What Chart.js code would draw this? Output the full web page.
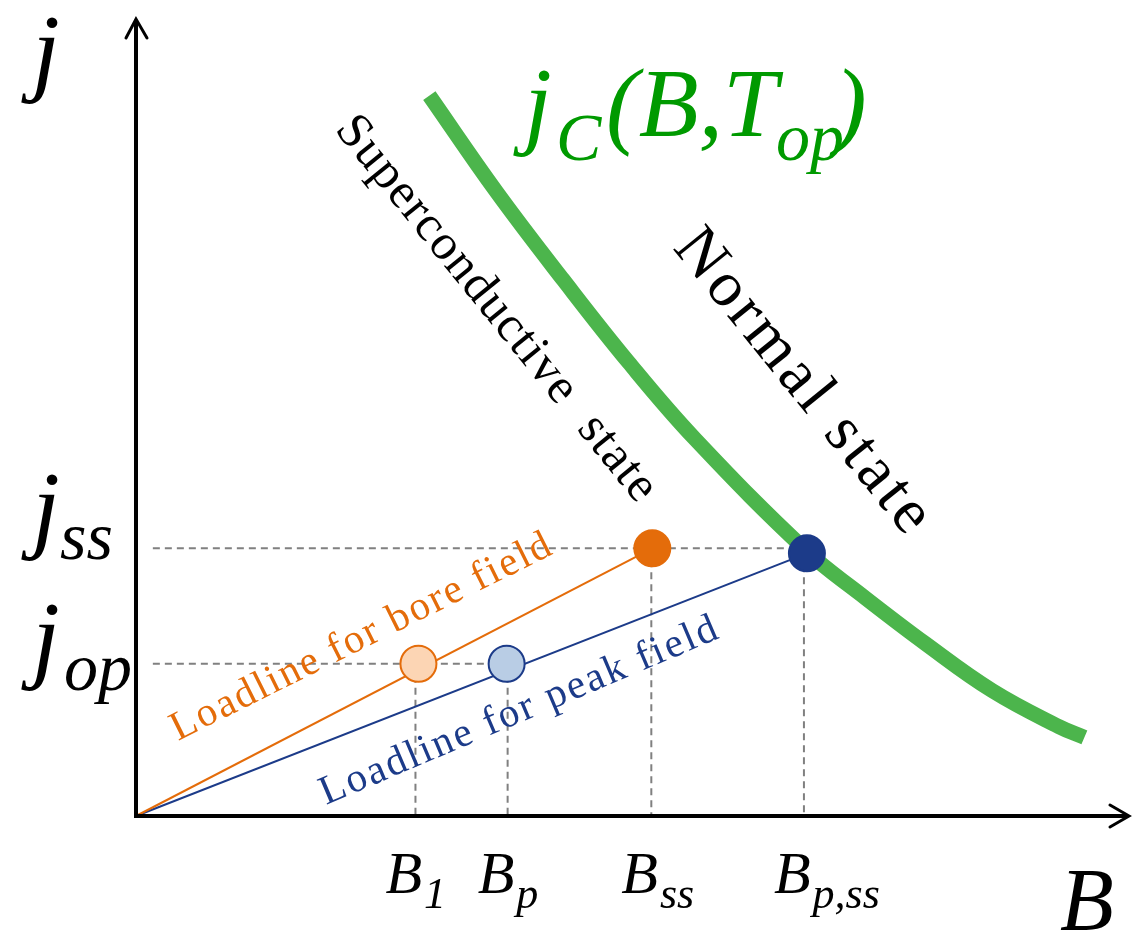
<!DOCTYPE html>
<html>
<head>
<meta charset="utf-8">
<script src="https://cdn.jsdelivr.net/npm/chart.js@4/dist/chart.umd.min.js"></script>
<style>
  html, body { margin: 0; padding: 0; background: #fff; }
  #wrap { width: 1147px; height: 933px; }
</style>
</head>
<body>
<div id="wrap"><canvas id="jbChart"></canvas></div>
<script>
// critical current curve j_C(B, T_op)
const curveB = [2.96, 3.64, 4.31, 4.97, 5.64, 6.77, 7.31, 7.97, 8.64, 9.31, 9.57];
const curveJ = [7.24, 6.27, 5.39, 4.56, 3.79, 2.66, 2.23, 1.73, 1.26, 0.90, 0.79];

// load lines (from origin to the short-sample point)
const boreLineB = [0, 5.21];
const boreLineJ = [0, 2.69];
const peakLineB = [0, 6.77];
const peakLineJ = [0, 2.64];

// operating points and short-sample points
const opBoreB = 2.85, opBoreJ = 1.53;
const opPeakB = 3.74, opPeakJ = 1.53;
const ssBoreB = 5.21, ssBoreJ = 2.69;
const ssPeakB = 6.77, ssPeakJ = 2.64;

// tick labels
const tickB = [2.82, 3.75, 5.20, 6.74];
const tickBSub = ["1", "p", "ss", "p,ss"];
const tickJ = [2.69, 1.53];
const tickJSub = ["ss", "op"];

const GREEN = "#4cb54c";
const ORANGE = "#e46c0a";
const BLUE = "#1c3b89";
const GREY = "#808080";
const SERIF = '"Liberation Serif", "DejaVu Serif", serif';

function pts(xs, ys) {
  return xs.map((x, i) => ({ x: x, y: ys[i] }));
}

function guide(data) {
  return {
    data: data, showLine: true, borderColor: GREY, borderWidth: 2,
    borderDash: [7, 5], pointRadius: 0, order: 5
  };
}

function dot(x, y, fill, stroke) {
  return {
    data: [{ x: x, y: y }], showLine: false, pointRadius: 18, pointHoverRadius: 18,
    pointBackgroundColor: fill, pointBorderColor: stroke, pointBorderWidth: 2, order: 1
  };
}

function text(ctx, str, x, y, size, color, italic) {
  ctx.font = (italic ? "italic " : "") + size + "px " + SERIF;
  ctx.fillStyle = color;
  ctx.fillText(str, x, y);
  return ctx.measureText(str).width;
}

// rotated label, stretched with letter spacing to the reference length
function rotated(ctx, str, x, y, deg, size, color, width) {
  ctx.save();
  ctx.font = size + "px " + SERIF;
  ctx.fillStyle = color;
  ctx.translate(x, y);
  ctx.rotate(deg * Math.PI / 180);
  if ("letterSpacing" in ctx) {
    const w = ctx.measureText(str).width;
    ctx.letterSpacing = ((width - w) / (str.length - 1)).toFixed(2) + "px";
  }
  ctx.fillText(str, 0, 0);
  ctx.letterSpacing = "0px";
  ctx.restore();
}

const sketch = {
  id: "sketch",
  afterDatasetsDraw(chart) {
    const ctx = chart.ctx;
    const xs = chart.scales.x, ys = chart.scales.y;
    const x0 = xs.getPixelForValue(0), y0 = ys.getPixelForValue(0);
    const xEnd = xs.getPixelForValue(10.02), yEnd = ys.getPixelForValue(8.01);

    ctx.save();
    ctx.textBaseline = "alphabetic";
    ctx.textAlign = "left";

    // axes with open arrow heads
    ctx.strokeStyle = "#000";
    ctx.lineWidth = 4;
    ctx.lineCap = "butt";
    ctx.beginPath();
    ctx.moveTo(x0, y0 + 2); ctx.lineTo(x0, yEnd + 2);
    ctx.moveTo(x0 - 2, y0); ctx.lineTo(xEnd - 2, y0);
    ctx.stroke();
    ctx.lineWidth = 3;
    ctx.lineCap = "round";
    ctx.lineJoin = "miter";
    ctx.beginPath();
    ctx.moveTo(x0 - 10, yEnd + 19); ctx.lineTo(x0, yEnd); ctx.lineTo(x0 + 11, yEnd + 19);
    ctx.moveTo(xEnd - 19, y0 - 11); ctx.lineTo(xEnd, y0); ctx.lineTo(xEnd - 19, y0 + 11);
    ctx.stroke();

    // axis titles
    text(ctx, "j", x0 - 104, 83, 100, "#000", true);
    text(ctx, "B", 1060, 929, 88, "#000", true);

    // B tick labels
    tickB.forEach((v, i) => {
      const px = xs.getPixelForValue(v) - 30;
      const w = text(ctx, "B", px, y0 + 77, 60, "#000", true);
      text(ctx, tickBSub[i], px + w + 2, y0 + 92, 44, "#000", true);
    });

    // j tick labels
    const jDy = [-8, 6], subDy = [11, 26], subX = [60, 64];
    tickJ.forEach((v, i) => {
      const py = ys.getPixelForValue(v);
      text(ctx, "j", 32, py + jDy[i], 100, "#000", true);
      text(ctx, tickJSub[i], subX[i], py + subDy[i], 68, "#000", true);
    });

    // curve label j_C(B, T_op)
    const G = "#009a00";
    text(ctx, "j", 524, 136, 100, G, true);
    text(ctx, "C", 556, 160, 68, G, true);
    text(ctx, "(B,T", 606, 136, 98, G, true);
    text(ctx, "op", 776, 160, 68, G, true);
    text(ctx, ")", 834, 136, 98, G, true);

    // region labels
    rotated(ctx, "Superconductive  state", 334, 130, 51, 50, "#000", 482);
    rotated(ctx, "Normal state", 672, 248, 51, 64, "#000", 372);

    // load line labels
    rotated(ctx, "Loadline for bore field", 178, 741, -26.5, 41, ORANGE, 420);
    rotated(ctx, "Loadline for peak field", 326, 805, -23, 41, BLUE, 428);

    ctx.restore();
  }
};

new Chart(document.getElementById("jbChart"), {
  type: "scatter",
  data: {
    datasets: [
      {
        label: "j_C(B, T_op)", data: pts(curveB, curveJ), showLine: true,
        borderColor: GREEN, borderWidth: 15, borderCapStyle: "butt",
        tension: 0.4, pointRadius: 0, order: 6
      },
      guide([{ x: 0.17, y: tickJ[0] }, { x: ssPeakB, y: tickJ[0] }]),
      guide([{ x: 0.17, y: tickJ[1] }, { x: opPeakB, y: tickJ[1] }]),
      guide([{ x: tickB[0], y: opBoreJ }, { x: tickB[0], y: 0 }]),
      guide([{ x: tickB[1], y: opPeakJ }, { x: tickB[1], y: 0 }]),
      guide([{ x: tickB[2], y: ssBoreJ }, { x: tickB[2], y: 0 }]),
      guide([{ x: tickB[3], y: ssPeakJ }, { x: tickB[3], y: 0 }]),
      {
        label: "Loadline for bore field", data: pts(boreLineB, boreLineJ), showLine: true,
        borderColor: ORANGE, borderWidth: 2, pointRadius: 0, order: 4
      },
      {
        label: "Loadline for peak field", data: pts(peakLineB, peakLineJ), showLine: true,
        borderColor: BLUE, borderWidth: 2, pointRadius: 0, order: 4
      },
      dot(opBoreB, opBoreJ, "#fcd5b4", ORANGE),
      dot(opPeakB, opPeakJ, "#b9cde5", BLUE),
      dot(ssBoreB, ssBoreJ, ORANGE, ORANGE),
      dot(ssPeakB, ssPeakJ, BLUE, BLUE)
    ]
  },
  options: {
    responsive: true,
    maintainAspectRatio: false,
    animation: false,
    clip: false,
    layout: { padding: { left: 136, right: 11, top: 16, bottom: 117 } },
    plugins: { legend: { display: false }, tooltip: { enabled: false } },
    scales: {
      x: { type: "linear", min: 0, max: 10, display: false },
      y: { type: "linear", min: 0, max: 8, display: false }
    }
  },
  plugins: [sketch]
});
</script>
</body>
</html>
